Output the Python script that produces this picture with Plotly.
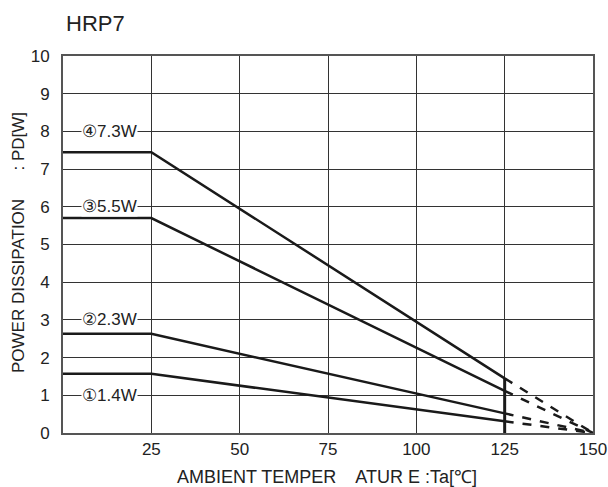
import plotly.graph_objects as go

# ambient temperature breakpoints [°C]
temps = [0, 25, 125]
derate_temps = [125, 150]

# power dissipation curves [W]
pd4 = [7.45, 7.45, 1.45]
pd3 = [5.70, 5.70, 1.12]
pd2 = [2.63, 2.63, 0.52]
pd1 = [1.57, 1.57, 0.31]
curves = [pd4, pd3, pd2, pd1]

labels = ["④7.3W", "③5.5W", "②2.3W", "①1.4W"]
label_y = [8, 6, 3, 1]

x_ticks = [25, 50, 75, 100, 125, 150]
y_ticks = list(range(0, 11))

font = "Liberation Sans, Arial, sans-serif"
line_col = "#1a1a1a"
text_col = "#222"

W, H = 608, 487
L, T, R, B = 63, 56, 15, 54
pw, ph = W - L - R, H - T - B

fig = go.Figure()

for pdv in curves:
    # solid part up to 125 °C
    fig.add_trace(go.Scatter(x=temps, y=pdv, mode="lines",
                             line=dict(color=line_col, width=2.5),
                             showlegend=False, hoverinfo="skip"))
    # dashed part down to zero at 150 °C
    fig.add_trace(go.Scatter(x=derate_temps, y=[pdv[-1], 0], mode="lines",
                             line=dict(color=line_col, width=2.5, dash="dash"),
                             showlegend=False, hoverinfo="skip"))

# thick vertical marker at 125 °C
fig.add_trace(go.Scatter(x=[125, 125], y=[0, max(c[-1] for c in curves)],
                         mode="lines", line=dict(color=line_col, width=3),
                         showlegend=False, hoverinfo="skip"))

for txt, yv in zip(labels, label_y):
    fig.add_annotation(x=13.2, y=yv, text=txt, showarrow=False,
                       font=dict(family=font, size=17, color=text_col),
                       bgcolor="white", borderpad=0)

# title and axis titles placed by hand (offsets in px from the plot area)
fig.add_annotation(xref="paper", yref="paper", x=1 / pw, y=1 + 33 / ph,
                   text="HRP7", showarrow=False, xanchor="left",
                   yanchor="middle",
                   font=dict(family=font, size=22, color=text_col))
fig.add_annotation(xref="paper", yref="paper", x=264 / pw, y=-44 / ph,
                   text="AMBIENT TEMPER    ATUR E :Ta[℃]",
                   showarrow=False, xanchor="center", yanchor="middle",
                   font=dict(family=font, size=18, color=text_col))
fig.add_annotation(xref="paper", yref="paper", x=-45 / pw, y=190 / ph,
                   text="POWER DISSIPATION      : PD[W]",
                   textangle=-90, showarrow=False, xanchor="center",
                   yanchor="middle",
                   font=dict(family=font, size=17, color=text_col))

fig.update_layout(
    width=W, height=H,
    margin=dict(l=L, r=R, t=T, b=B, autoexpand=False),
    paper_bgcolor="white", plot_bgcolor="white",
    font=dict(family=font, size=17, color=text_col),
    xaxis=dict(range=[0, 150], tickvals=x_ticks, showgrid=True,
               gridcolor="#333", gridwidth=1, showline=True, linecolor="#555",
               linewidth=2, mirror=True, zeroline=False, ticks="",
               ticklabelstandoff=0, automargin=False),
    yaxis=dict(range=[0, 10], tickvals=y_ticks, showgrid=True,
               gridcolor="#333", gridwidth=1, showline=True, linecolor="#555",
               linewidth=2, mirror=True, zeroline=False, ticks="",
               ticklabelstandoff=8, automargin=False),
)

# drop the default 8px page margin so the figure fills the window
fig.write_html("out.html", config={"displayModeBar": False},
               post_script="document.body.style.margin='0';"
                           "document.body.style.overflow='hidden';")
